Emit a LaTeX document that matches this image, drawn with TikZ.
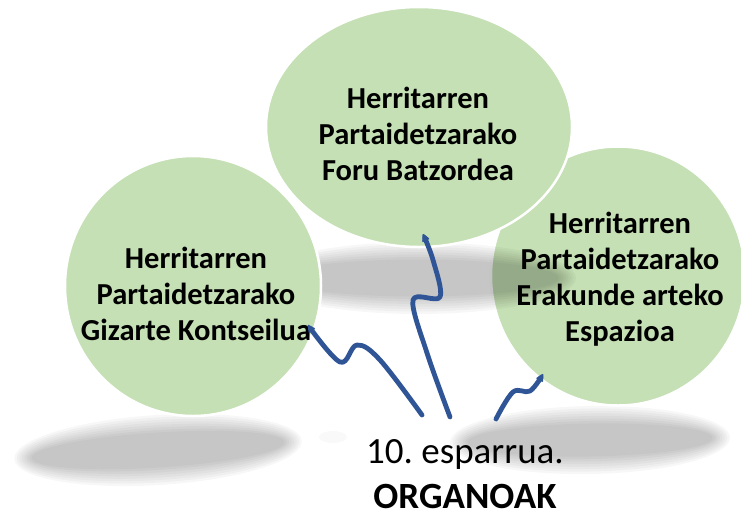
\documentclass[tikz,border=0pt]{standalone}
\usepackage{fontspec}
\setmainfont{Carlito}
\usetikzlibrary{shapes.geometric,arrows.meta}
\definecolor{bubblegreen}{HTML}{C5E0B4}
\definecolor{linkblue}{HTML}{2F5597}
\frenchspacing
\begin{document}
\begin{tikzpicture}[x=1pt, y=-1pt, line join=round, line cap=round]
	\tikzset{
		bubble/.style={ellipse, fill=bubblegreen, draw=white, line width=2.5pt, inner sep=0pt},
		bubbletext/.style={align=center, font=\fontsize{30.5}{36}\selectfont\bfseries},
		shadelayer/.style={fill=black, fill opacity=.03},
		link/.style={linkblue, line width=4.8pt, -{Stealth[length=10pt, width=10pt, round]}},
	}
	\def\blur(#1,#2,#3,#4,#5){% centre, radii, angle
		\foreach \k in {0,...,7}
			\fill[shadelayer, rotate around={#5:(#1,#2)}] (#1,#2) ellipse [x radius={#3+10-2.5*\k}, y radius={#4+10-2.5*\k}];
	}
	\useasboundingbox (0,0) rectangle (741,517);
	% shadows on the ground
	\blur(158,450,134,25,3.6)
	\blur(590,440,130,24,1)
	\fill[black, fill opacity=.025] (333,437) ellipse [x radius=14, y radius=6];
	% bubbles
	\node[bubble, minimum width=254pt, minimum height=259pt] (espazio) at (618,276) {};
	\blur(418,278,148,26,0)
	\node[bubble, minimum width=256pt, minimum height=260pt] (kontseilu) at (193,286) {};
	\node[bubble, minimum width=306pt, minimum height=240pt] (batzorde) at (419,127) {};
	\node[bubbletext] (batzordetxt) at (418,134) {Herritarren\\Partaidetzarako\\Foru Batzordea};
	\node[bubbletext] (kontseilutxt) at (196,294) {Herritarren\\Partaidetzarako\\Gizarte Kontseilua};
	\node[bubbletext] (espaziotxt) at (620,279) {Herritarren\\Partaidetzarako\\Erakunde arteko\\Espazioa};
	\node[align=center, inner sep=0pt, font=\fontsize{37}{45}\selectfont] (organoak) at (465,474) {10. esparrua.\\\textbf{ORGANOAK}};
	% connectors
	\coordinate (kontseilu in) at (308,325);
	\coordinate (batzorde in) at (423,234);
	\coordinate (espazio in) at (543,374);
	\draw[link] plot[smooth, tension=.6] coordinates {(422,415) (380,360) (357,345) (340,362) (kontseilu in)};
	\draw[link] plot[smooth, tension=.55] coordinates {(450,417) (427,353) (413,300) (440,297) (433,260) (batzorde in)};
	\draw[link] plot[smooth, tension=.6] coordinates {(496,419) (513,392) (530,391) (espazio in)};
\end{tikzpicture}
\end{document}
